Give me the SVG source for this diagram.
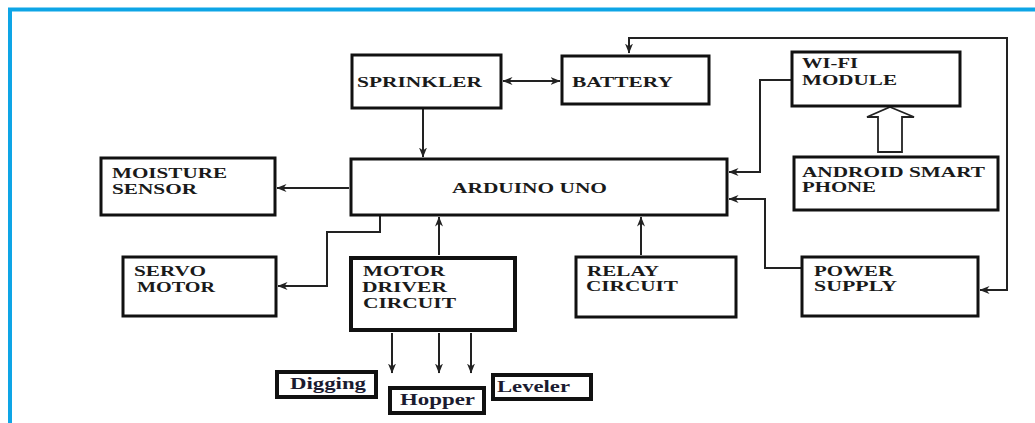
<svg xmlns="http://www.w3.org/2000/svg" width="1035" height="423" viewBox="0 0 1035 423">
<style>
.box{fill:#fff;stroke:#111;stroke-width:3}
.thick{stroke-width:4}
.t{font-family:"Liberation Serif","Times New Roman",serif;font-weight:bold;font-size:15px;fill:#1a1a1a}
.s{font-family:"Liberation Serif","Times New Roman",serif;font-weight:bold;font-size:17px;fill:#1b1b30}
.c{fill:none;stroke:#222;stroke-width:2}
</style>
<defs>
<marker id="ah" viewBox="0 0 10 8" refX="9.5" refY="4" markerWidth="10" markerHeight="8" markerUnits="userSpaceOnUse" orient="auto-start-reverse">
<path d="M0,0 L10,4 L0,8 L3,4 Z" fill="#222"/>
</marker>
</defs>
<rect width="1035" height="423" fill="#fff"/>
<path d="M10,423 V9.5 H1035" fill="none" stroke="#0ea5e6" stroke-width="4"/>

<g id="connectors">
<path class="c" d="M503,81 H560" marker-start="url(#ah)" marker-end="url(#ah)"/>
<path class="c" d="M423,109 V157" marker-end="url(#ah)"/>
<path class="c" d="M349,188 H277" marker-end="url(#ah)"/>
<path class="c" d="M791,80 H760 V172 H729" marker-end="url(#ah)"/>
<path class="c" d="M801,268 H765 V199 H729" marker-end="url(#ah)"/>
<path class="c" d="M980,290 H1007 V38 H629 V53" marker-start="url(#ah)" marker-end="url(#ah)"/>
<path class="c" d="M380,216 V232 H327 V286 H278" marker-end="url(#ah)"/>
<path class="c" d="M439,255 V217" marker-end="url(#ah)"/>
<path class="c" d="M641,255 V217" marker-end="url(#ah)"/>
<path class="c" d="M392,333 V373" marker-end="url(#ah)"/>
<path class="c" d="M439,333 V373" marker-end="url(#ah)"/>
<path class="c" d="M471,333 V373" marker-end="url(#ah)"/>
<path d="M890,107 L914,117 H902 V152 H878 V117 H867 Z" fill="#fff" stroke="#222" stroke-width="1.8" stroke-linejoin="miter"/>
</g>

<g id="sprinkler">
<rect class="box" x="352" y="55" width="149" height="53"/>
<text class="t" x="357" y="87" textLength="125" lengthAdjust="spacingAndGlyphs">SPRINKLER</text>
</g>
<g id="battery">
<rect class="box" x="562" y="56" width="147" height="48"/>
<text class="t" x="572" y="87" textLength="101" lengthAdjust="spacingAndGlyphs">BATTERY</text>
</g>
<g id="wifi">
<rect class="box" x="792" y="52" width="168" height="54"/>
<text class="t" x="802" y="68" textLength="56" lengthAdjust="spacingAndGlyphs">WI-FI</text>
<text class="t" x="802" y="85" textLength="95" lengthAdjust="spacingAndGlyphs">MODULE</text>
</g>
<g id="android">
<rect class="box" x="794" y="157" width="204" height="53"/>
<text class="t" x="802" y="177" textLength="183" lengthAdjust="spacingAndGlyphs">ANDROID SMART</text>
<text class="t" x="802" y="192" textLength="74" lengthAdjust="spacingAndGlyphs">PHONE</text>
</g>
<g id="arduino">
<rect class="box" x="351" y="159" width="376" height="56"/>
<text class="t" x="452" y="193" textLength="155" lengthAdjust="spacingAndGlyphs">ARDUINO UNO</text>
</g>
<g id="moisture">
<rect class="box" x="101" y="158" width="174" height="57"/>
<text class="t" x="112" y="178" textLength="115" lengthAdjust="spacingAndGlyphs">MOISTURE</text>
<text class="t" x="112" y="194" textLength="85" lengthAdjust="spacingAndGlyphs">SENSOR</text>
</g>
<g id="servo">
<rect class="box" x="123" y="257" width="153" height="59"/>
<text class="t" x="134" y="276" textLength="72" lengthAdjust="spacingAndGlyphs">SERVO</text>
<text class="t" x="137" y="292" textLength="78" lengthAdjust="spacingAndGlyphs">MOTOR</text>
</g>
<g id="motor-driver">
<rect class="box thick" x="351" y="258" width="164" height="72"/>
<text class="t" x="363" y="276" textLength="82" lengthAdjust="spacingAndGlyphs">MOTOR</text>
<text class="t" x="362" y="292" textLength="85" lengthAdjust="spacingAndGlyphs">DRIVER</text>
<text class="t" x="363" y="308" textLength="93" lengthAdjust="spacingAndGlyphs">CIRCUIT</text>
</g>
<g id="relay">
<rect class="box" x="576" y="257" width="160" height="60"/>
<text class="t" x="587" y="276" textLength="72" lengthAdjust="spacingAndGlyphs">RELAY</text>
<text class="t" x="586" y="291" textLength="92" lengthAdjust="spacingAndGlyphs">CIRCUIT</text>
</g>
<g id="power">
<rect class="box" x="802" y="257" width="176" height="59"/>
<text class="t" x="814" y="276" textLength="79" lengthAdjust="spacingAndGlyphs">POWER</text>
<text class="t" x="814" y="291" textLength="83" lengthAdjust="spacingAndGlyphs">SUPPLY</text>
</g>
<g id="digging">
<rect class="box thick" x="277" y="372" width="99" height="25"/>
<text class="s" x="290" y="389" textLength="76" lengthAdjust="spacingAndGlyphs">Digging</text>
</g>
<g id="hopper">
<rect class="box thick" x="390" y="388" width="94" height="25"/>
<text class="s" x="400" y="405" textLength="75" lengthAdjust="spacingAndGlyphs">Hopper</text>
</g>
<g id="leveler">
<rect class="box thick" x="493" y="375" width="98" height="24"/>
<text class="s" x="497" y="392" textLength="73" lengthAdjust="spacingAndGlyphs">Leveler</text>
</g>
</svg>
